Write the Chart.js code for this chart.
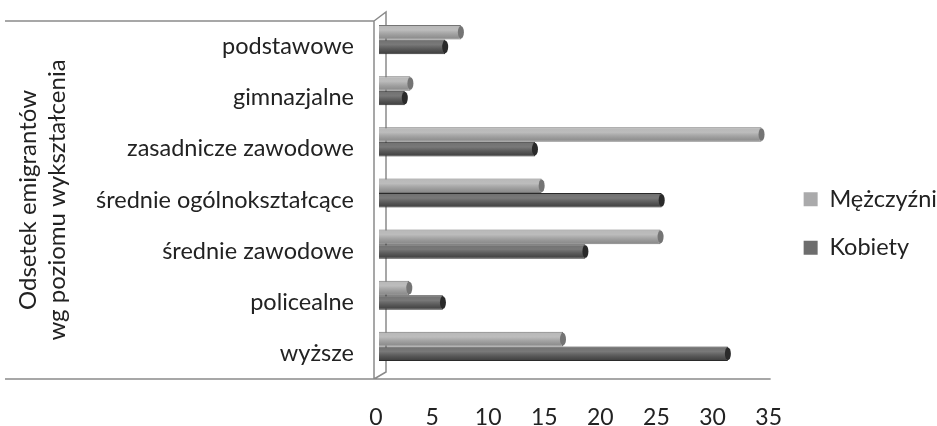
<!DOCTYPE html>
<html>
<head>
<meta charset="utf-8">
<script src="https://cdn.jsdelivr.net/npm/chart.js"></script>
<style>
  html, body { margin: 0; padding: 0; background: #fff; }
  #wrap { width: 937px; height: 426px; }
</style>
</head>
<body>
<div id="wrap"><canvas id="wykres"></canvas></div>
<script>
const kategorie = ["podstawowe", "gimnazjalne", "zasadnicze zawodowe", "średnie ogólnokształcące", "średnie zawodowe", "policealne", "wyższe"];
const mezczyzni = [7.3, 2.8, 34.1, 14.5, 25.1, 2.7, 16.4];
const kobiety = [5.9, 2.3, 13.9, 25.2, 18.4, 5.7, 31.1];
const tytulOsi = ["Odsetek emigrantów", "wg poziomu wykształcenia"];
const osX = { min: 0, max: 35, krok: 5 };

const czcionka = "Lato, 'Open Sans', sans-serif";

// ramka "3D" jak w Excelu: linie przy osi i sciana tylna
const ramka = {
    id: "ramka",
    afterLayout(chart) {
        // legenda troche blizej prawej krawedzi
        chart.legend.left += 10;
        chart.legend.right += 10;
    },
    beforeDatasetsDraw(chart) {
        const { ctx, chartArea } = chart;
        const l = chartArea.left - 2, t = chartArea.top, b = chartArea.bottom;
        ctx.save();
        ctx.strokeStyle = "#8a8a8a";
        ctx.lineWidth = 1.5;
        ctx.beginPath();
        // linie poziome po lewej
        ctx.moveTo(5, t); ctx.lineTo(l, t);
        ctx.moveTo(5, b); ctx.lineTo(l, b);
        // przednia krawedz
        ctx.moveTo(l, t); ctx.lineTo(l, b);
        // os pozioma
        ctx.moveTo(l, b); ctx.lineTo(chartArea.right + 2, b);
        // sciana tylna
        ctx.moveTo(l, t); ctx.lineTo(l + 12, t - 9);
        ctx.lineTo(l + 12, b - 7);
        ctx.lineTo(l, b);
        ctx.stroke();
        ctx.restore();
        // slupki lekko w glab (perspektywa)
        ctx.save();
        ctx.translate(3, -7);
    },
    afterDatasetsDraw(chart) {
        // polysk na slupkach (efekt walca)
        const { ctx } = chart;
        chart.data.datasets.forEach((ds, i) => {
            chart.getDatasetMeta(i).data.forEach(el => {
                const h = Math.abs(el.height);
                const g = ctx.createLinearGradient(0, el.y - h / 2, 0, el.y + h / 2);
                g.addColorStop(0, "rgba(255,255,255,0.2)");
                g.addColorStop(0.35, "rgba(255,255,255,0.25)");
                g.addColorStop(1, "rgba(0,0,0,0.18)");
                ctx.fillStyle = g;
                ctx.fillRect(el.base, el.y - h / 2 + 1, el.x - el.base - 2, h - 2);
                // zaokraglony koniec
                ctx.fillStyle = ds.borderColor;
                ctx.beginPath();
                ctx.ellipse(el.x, el.y, 3, h / 2 - 1, 0, 0, Math.PI * 2);
                ctx.fill();
            });
        });
        ctx.restore();
    }
};

new Chart(document.getElementById("wykres"), {
    type: "bar",
    data: {
        labels: kategorie,
        datasets: [
            {
                label: "Mężczyźni",
                data: mezczyzni,
                backgroundColor: "#a6a6a6",
                borderColor: "#747474",
                borderWidth: 1,
                legendColor: "#aaaaab"
            },
            {
                label: "Kobiety",
                data: kobiety,
                backgroundColor: "#4c4c4c",
                borderColor: "#2a2a2a",
                borderWidth: 1,
                legendColor: "#6d6d6d"
            }
        ]
    },
    options: {
        indexAxis: "y",
        responsive: true,
        maintainAspectRatio: false,
        animation: false,
        categoryPercentage: 0.57,
        barPercentage: 1,
        layout: { padding: { left: 8, top: 21, right: 0, bottom: 0 } },
        scales: {
            x: {
                min: osX.min,
                max: osX.max,
                grid: { display: false, drawTicks: false },
                border: { display: false },
                afterFit(scale) {
                    scale.paddingLeft = 0;
                    scale.paddingRight = 0;
                    scale.height = 47;
                },
                ticks: {
                    stepSize: osX.krok,
                    padding: 25,
                    color: "#222",
                    font: { family: czcionka, size: 23 }
                }
            },
            y: {
                grid: { display: false, drawTicks: false },
                border: { display: false },
                afterFit(scale) {
                    scale.width = 368;
                    scale.paddingTop = 0;
                    scale.paddingBottom = 0;
                },
                ticks: {
                    padding: 22,
                    color: "#222",
                    font: { family: czcionka, size: 23.5 }
                },
                title: {
                    display: true,
                    text: tytulOsi,
                    color: "#222",
                    padding: { top: 6, bottom: 0 },
                    font: { family: czcionka, size: 24, lineHeight: 1.2 }
                }
            }
        },
        plugins: {
            tooltip: { enabled: false },
            legend: {
                position: "right",
                labels: {
                    boxWidth: 14,
                    boxHeight: 14,
                    padding: 25,
                    color: "#222",
                    font: { family: czcionka, size: 23.5 },
                    generateLabels(chart) {
                        return chart.data.datasets.map((ds, i) => ({
                            text: ds.label,
                            fillStyle: ds.legendColor,
                            strokeStyle: ds.legendColor,
                            lineWidth: 0,
                            datasetIndex: i,
                            fontColor: "#222"
                        }));
                    }
                }
            }
        }
    },
    plugins: [ramka]
});
</script>
</body>
</html>
